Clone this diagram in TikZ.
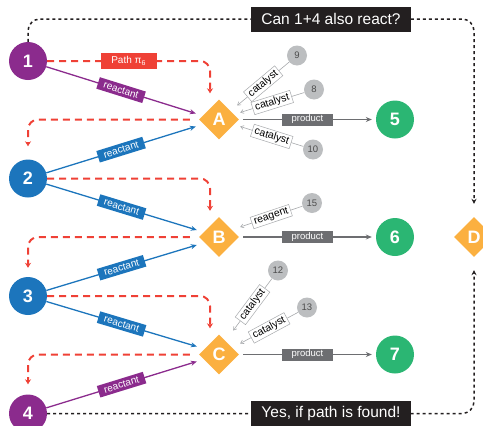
\documentclass[tikz,border=0pt]{standalone}
\usepackage{fontspec}
\setmainfont{Liberation Sans}
\usetikzlibrary{positioning,shapes.geometric,arrows.meta}

\definecolor{molpurple}{HTML}{8B2B8D}
\definecolor{molblue}{HTML}{1C75BC}
\definecolor{rxnorange}{HTML}{FBB040}
\definecolor{prodgreen}{HTML}{2BB673}
\definecolor{pathred}{HTML}{EF4136}
\definecolor{catgrey}{HTML}{BCBEC0}
\definecolor{arrgrey}{HTML}{A7A9AC}
\definecolor{prodgrey}{HTML}{6D6E71}
\definecolor{notebg}{HTML}{231F20}

\begin{document}
\begin{tikzpicture}[x=1pt,y=-1pt,node distance=117.5pt,on grid,
				>={Stealth[length=6pt,width=5pt]},
				mol/.style={circle, minimum size=38pt, inner sep=0pt, text=white, font=\fontsize{18}{18}\selectfont\bfseries},
				purp/.style={mol, fill=molpurple},
				blu/.style={mol, fill=molblue},
				grn/.style={mol, fill=prodgreen},
				rxn/.style={diamond, minimum size=40pt, inner sep=0pt, fill=rxnorange, text=white, font=\fontsize{18}{18}\selectfont\bfseries},
				cat/.style={circle, minimum size=20pt, inner sep=0pt, fill=catgrey, text=black!70, font=\fontsize{9.5}{9.5}\selectfont},
				reac/.style={->, line width=1.3pt},
				reaclab/.style={sloped, fill=#1, text=white, inner xsep=6pt, inner ysep=1.5pt, minimum height=12pt, font=\fontsize{10}{10}\selectfont},
				prod/.style={->, draw=prodgrey, line width=1.4pt, shorten <=4pt, shorten >=4pt},
				prodlab/.style={fill=prodgrey, text=white, inner xsep=10pt, inner ysep=1.5pt, minimum height=12pt, font=\fontsize{9.5}{9.5}\selectfont},
				catarr/.style={-{Straight Barb[length=3pt,width=4pt]}, draw=arrgrey, line width=0.6pt},
				catlab/.style={sloped, fill=white, draw=arrgrey, line width=0.5pt, text=black, inner xsep=2.5pt, inner ysep=1.5pt, font=\fontsize{10.5}{10.5}\selectfont},
				rpath/.style={-{Stealth[length=5pt,width=6pt]}, draw=pathred, line width=2pt, dash pattern=on 7pt off 5pt, rounded corners=10pt},
				rlab/.style={sharp corners, fill=pathred, text=white, minimum width=56pt, minimum height=16pt, inner sep=1pt, font=\fontsize{10}{10}\selectfont},
				qpath/.style={-{Stealth[length=5pt,width=5pt]}, draw=notebg, line width=1.5pt, dash pattern=on 3pt off 3pt, rounded corners=12pt},
				note/.style={fill=notebg, text=white, minimum height=25pt, inner xsep=10pt, inner ysep=2pt, font=\fontsize{15.5}{15.5}\selectfont}
			]
			\useasboundingbox (0,0) rectangle (483,426);
			
			\node[purp] (s_1) at (28,61) {1};
			\node[blu] (s_2) [below=of s_1] {2};
			\node[blu] (s_3) [below=of s_2] {3};
			\node[purp] (s_4) [below=of s_3] {4};
			
			\node[rxn] (r_a) at (219,119.5) {A};
			\node[rxn] (r_b) [below=of r_a] {B};
			\node[rxn] (r_c) [below=of r_b] {C};
			\node[rxn] (r_d) [right=255pt of r_b] {D};
			
			\node[grn] (p_5) [right=176pt of r_a] {5};
			\node[grn] (p_6) [right=176pt of r_b] {6};
			\node[grn] (p_7) [right=176pt of r_c] {7};
			
			\node[cat] (c_9) [above right=64pt and 78pt of r_a] {9};
			\node[cat] (c_8) [above right=30pt and 95pt of r_a] {8};
			\node[cat] (c_10) [below right=30pt and 94pt of r_a] {10};
			\node[cat] (c_15) [above right=34pt and 93pt of r_b] {15};
			\node[cat] (c_12) [above right=84pt and 59pt of r_c] {12};
			\node[cat] (c_13) [above right=47pt and 88pt of r_c] {13};
			
			\node[note] (q_top) at (331,19) {Can 1+4 also react?};
			\node[note] (q_bot) [right=303pt of s_4] {Yes, if path is found!};
			
			% reactants
			\draw[reac, molpurple] (s_1) -- node[midway, reaclab=molpurple] {reactant} ([xshift=-3pt,yshift=6pt]r_a.west);
			\draw[reac, molblue] (s_2) -- node[midway, reaclab=molblue] {reactant} ([xshift=-3pt,yshift=-7pt]r_a.west);
			\draw[reac, molblue] (s_2) -- node[midway, reaclab=molblue] {reactant} ([xshift=-2pt,yshift=7pt]r_b.west);
			\draw[reac, molblue] (s_3) -- node[midway, reaclab=molblue] {reactant} ([xshift=-2pt,yshift=-8pt]r_b.west);
			\draw[reac, molblue] (s_3) -- node[midway, reaclab=molblue] {reactant} ([xshift=-2pt,yshift=8pt]r_c.west);
			\draw[reac, molpurple] (s_4) -- node[midway, reaclab=molpurple] {reactant} ([xshift=-2pt,yshift=-7pt]r_c.west);
			
			% products
			\draw[prod] (r_a) -- node[midway, prodlab] {product} (p_5);
			\draw[prod] (r_b) -- node[midway, prodlab] {product} (p_6);
			\draw[prod] (r_c) -- node[midway, prodlab] {product} (p_7);
			
			% catalysts and reagent
			\draw[catarr] (c_9) -- node[midway, catlab] {catalyst} ([xshift=-2pt,yshift=14pt]r_a.east);
			\draw[catarr] (c_8) -- node[midway, catlab] {catalyst} ([xshift=1pt,yshift=7pt]r_a.east);
			\draw[catarr] (c_10) -- node[midway, catlab] {catalyst} ([xshift=1pt,yshift=-7pt]r_a.east);
			\draw[catarr] (c_15) -- node[midway, catlab] {reagent} ([xshift=1pt,yshift=10pt]r_b.east);
			\draw[catarr] (c_12) -- node[midway, catlab] {catalyst} ([xshift=-6pt,yshift=24pt]r_c.east);
			\draw[catarr] (c_13) -- node[midway, catlab] {catalyst} ([xshift=1pt,yshift=11pt]r_c.east);
			
			% path
			\draw[rpath] (s_1.east) -| node[pos=0.25, rlab] {Path π\textsubscript{6}} ([xshift=-9pt,yshift=6pt]r_a.north);
			\draw[rpath] ([xshift=-9pt]r_a.west) -| ([yshift=13pt]s_2.north);
			\draw[rpath] (s_2.east) -| ([xshift=-9pt,yshift=6pt]r_b.north);
			\draw[rpath] ([xshift=-9pt]r_b.west) -| ([yshift=9pt]s_3.north);
			\draw[rpath] (s_3.east) -| ([xshift=-9pt,yshift=6pt]r_c.north);
			\draw[rpath] ([xshift=-9pt]r_c.west) -| ([yshift=10pt]s_4.north);
			
			\draw[qpath] (s_1) |- (q_top) -| ([yshift=13pt]r_d.north);
			\draw[qpath] (s_4) -- (q_bot) -| ([yshift=-13pt]r_d.south);
		\end{tikzpicture}
\end{document}
